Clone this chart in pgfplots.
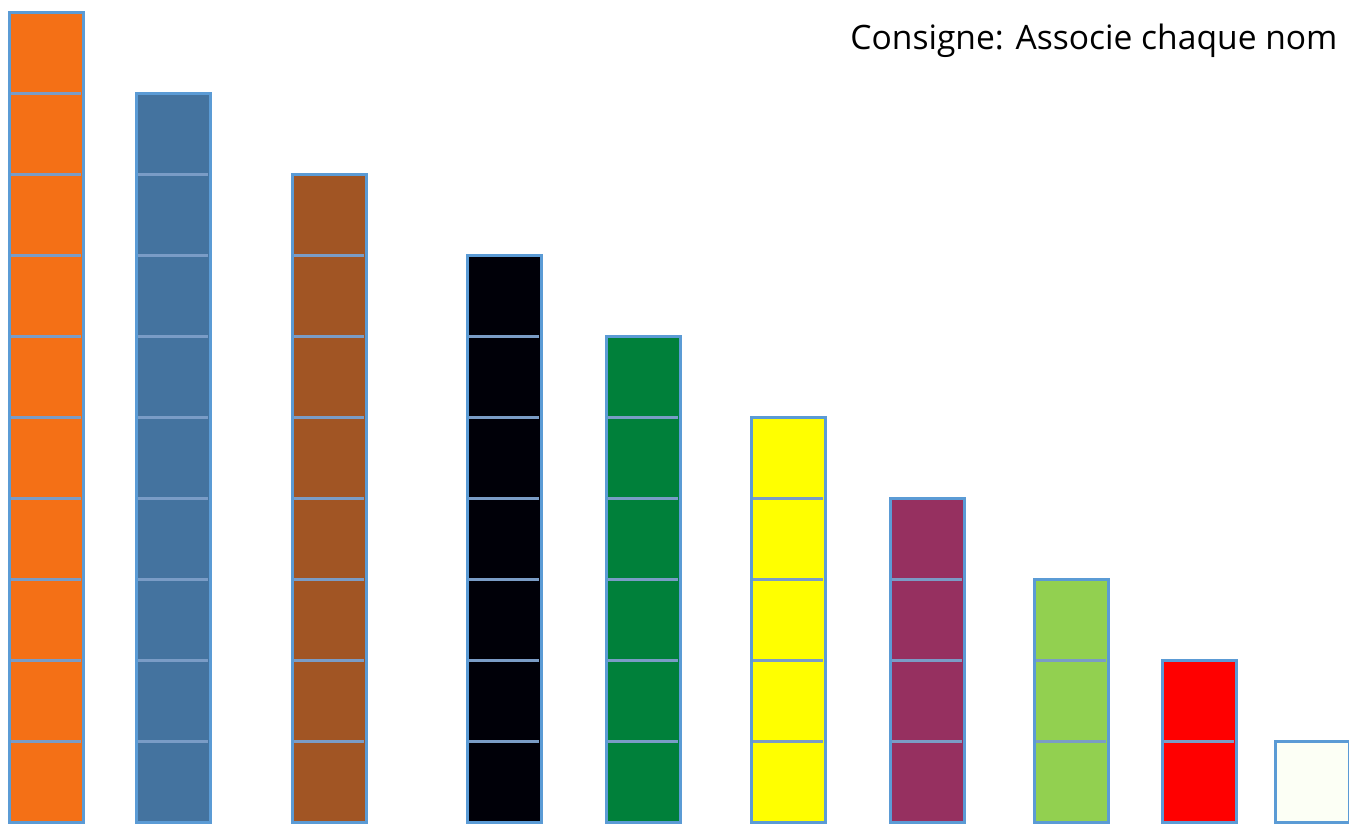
\documentclass[border=0pt]{standalone}
\usepackage{pgfplots}
\pgfplotsset{compat=1.18}
\usepackage{fontspec}
\setmainfont{Open Sans}

\definecolor{rodorange}{HTML}{F47016}
\definecolor{rodblue}{HTML}{44739F}
\definecolor{rodbrown}{HTML}{A15524}
\definecolor{rodblack}{HTML}{000008}
\definecolor{rodgreen}{HTML}{00803A}
\definecolor{rodyellow}{HTML}{FFFF00}
\definecolor{rodpurple}{HTML}{963060}
\definecolor{rodlime}{HTML}{92D050}
\definecolor{rodred}{HTML}{FF0000}
\definecolor{rodwhite}{HTML}{FCFFF5}
\definecolor{edge}{HTML}{5B9BD5}
\definecolor{seam}{HTML}{7A9CC6}

% one px of the reference = 0.5pt
\pgfplotsset{
  rod/.style={ybar, bar shift=0pt, bar width=74, draw=edge, line width=1.5pt, fill=#1},
  seams/.style={only marks, mark=-, mark size=17.5pt,
    mark options={draw=seam, line width=1.5pt}},
}

\begin{document}
\begin{tikzpicture}
\begin{axis}[
  scale only axis,
  width=674.5pt, height=413.5pt,
  xmin=0, xmax=1349,
  ymin=-0.05, ymax=10.16,
  hide axis,
  clip=false,
]
% rods: centre (px), length (units)
\addplot[rod=rodorange] coordinates {(46,10)};
\addplot[seams] coordinates {(46,1)(46,2)(46,3)(46,4)(46,5)(46,6)(46,7)(46,8)(46,9)};
\addplot[rod=rodblue] coordinates {(173,9)};
\addplot[seams] coordinates {(173,1)(173,2)(173,3)(173,4)(173,5)(173,6)(173,7)(173,8)};
\addplot[rod=rodbrown] coordinates {(329,8)};
\addplot[seams] coordinates {(329,1)(329,2)(329,3)(329,4)(329,5)(329,6)(329,7)};
\addplot[rod=rodblack] coordinates {(504,7)};
\addplot[seams] coordinates {(504,1)(504,2)(504,3)(504,4)(504,5)(504,6)};
\addplot[rod=rodgreen] coordinates {(643,6)};
\addplot[seams] coordinates {(643,1)(643,2)(643,3)(643,4)(643,5)};
\addplot[rod=rodyellow] coordinates {(788,5)};
\addplot[seams] coordinates {(788,1)(788,2)(788,3)(788,4)};
\addplot[rod=rodpurple] coordinates {(927,4)};
\addplot[seams] coordinates {(927,1)(927,2)(927,3)};
\addplot[rod=rodlime] coordinates {(1071,3)};
\addplot[seams] coordinates {(1071,1)(1071,2)};
\addplot[rod=rodred] coordinates {(1199,2)};
\addplot[seams] coordinates {(1199,1)};
\addplot[rod=rodwhite] coordinates {(1312,1)};
\coordinate (txt) at (axis cs:850,9.55);
\end{axis}
\node[anchor=base west, inner sep=0pt, font=\fontsize{16.8}{20}\selectfont] at (txt) {Consigne: Associe chaque nom};
\pgfresetboundingbox
\path[use as bounding box] (current axis.south west) rectangle (current axis.north east);
\end{tikzpicture}
\end{document}
